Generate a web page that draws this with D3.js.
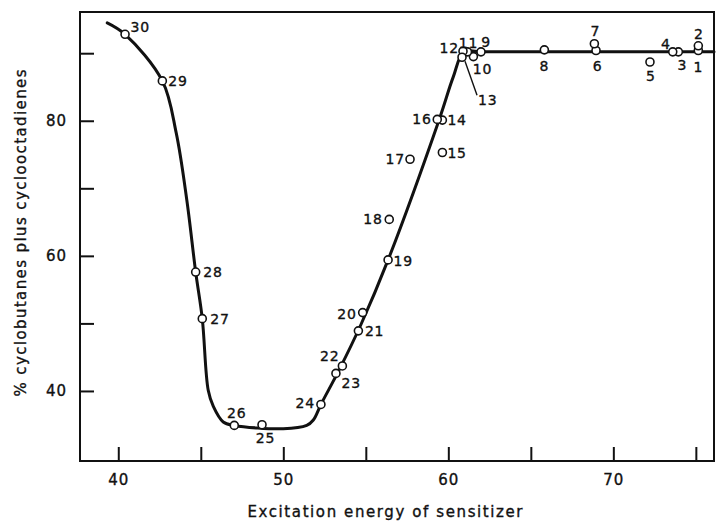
<!doctype html>
<html>
<head>
<style>
  body { margin: 0; background: #fff; }
  text { font-family: "DejaVu Sans", sans-serif; fill: #111; stroke: #111; stroke-width: 0.35px; }
  .axis line { stroke: #111; stroke-width: 2; }
  .axis path { display: none; }
  .axis text { font-size: 15px; letter-spacing: 1px; }
  .lbl { font-size: 14px; letter-spacing: 0.8px; }
</style>
<script src="https://d3js.org/d3.v7.min.js"></script>
</head>
<body>
<svg width="716" height="523"></svg>
<script>
// measured points, numbered as in the figure
var pointId = [1, 2, 3, 4, 5, 6, 7, 8, 9, 10, 11, 12, 13, 14, 15,
               16, 17, 18, 19, 20, 21, 22, 23, 24, 25, 26, 27, 28, 29, 30];
var energy  = [75.15, 75.15, 73.94, 73.6, 72.22, 68.95, 68.85, 65.82, 61.98, 61.52,
               61.16, 60.89, 60.83, 59.64, 59.64, 59.33, 57.68, 56.42, 56.35, 54.81,
               54.55, 53.58, 53.19, 52.28, 48.71, 47.03, 45.09, 44.69, 42.67, 40.41];
var percent = [90.4, 91.1, 90.2, 90.2, 88.7, 90.4, 91.4, 90.5, 90.2, 89.5,
               90.2, 90.3, 89.4, 80.1, 75.3, 80.2, 74.3, 65.4, 59.4, 51.6,
               48.9, 43.7, 42.6, 38.0, 35.0, 34.9, 50.7, 57.6, 85.9, 92.8];

// hand-drawn smooth curve through the data
var curveEnergy  = [39.33, 40.41, 42.67, 43.51, 44.15, 44.69, 45.09, 45.45, 45.76,
                    46.36, 47.03, 50.0, 51.42, 51.82, 52.28, 53.4, 54.7, 56.35, 59.45,
                    60.3, 60.95, 62.0, 76.1];
var curvePercent = [94.5, 92.8, 85.9, 78.2, 68.3, 57.6, 50.7, 40.1, 37.7,
                    35.4, 34.9, 34.4, 34.9, 35.7, 38.0, 43.2, 49.8, 59.4, 80.2,
                    86.5, 90.2, 90.2, 90.2];

var xTicks = [40, 45, 50, 55, 60, 65, 70, 75];
var xLabels = [40, 50, 60, 70];
var yTicks = [40, 50, 60, 70, 80, 90];
var yLabels = [40, 60, 80];

var xTitle = "Excitation energy of sensitizer";
var yTitle = "% cyclobutanes plus cyclooctadienes";

var svg = d3.select("svg"),
    margin = {top: 12, right: 2, bottom: 62, left: 80},
    width = svg.attr("width") - margin.left - margin.right,
    height = svg.attr("height") - margin.top - margin.bottom;

var x = d3.scaleLinear().domain([37.68, 76.1]).range([0, width]);
var y = d3.scaleLinear().domain([29.63, 96.1]).range([height, 0]);

var g = svg.append("g")
    .attr("transform", "translate(" + margin.left + "," + margin.top + ")");

// frame
g.append("rect")
    .attr("width", width).attr("height", height)
    .attr("fill", "none").attr("stroke", "#111").attr("stroke-width", 2);

g.append("g")
    .attr("class", "axis")
    .attr("transform", "translate(0," + height + ")")
    .call(d3.axisBottom(x).tickValues(xTicks).tickSize(-14).tickSizeOuter(0).tickPadding(13)
        .tickFormat(function(d) { return xLabels.indexOf(d) >= 0 ? d : ""; }));

g.append("g")
    .attr("class", "axis")
    .call(d3.axisLeft(y).tickValues(yTicks).tickSize(-14).tickSizeOuter(0).tickPadding(13)
        .tickFormat(function(d) { return yLabels.indexOf(d) >= 0 ? d : ""; }));

svg.append("text")
    .attr("x", 385).attr("y", 517)
    .attr("text-anchor", "middle")
    .attr("textLength", 275).attr("lengthAdjust", "spacing")
    .style("font-size", "15px")
    .text(xTitle);

svg.append("text")
    .attr("transform", "translate(26,233) rotate(-90)")
    .attr("text-anchor", "middle")
    .attr("textLength", 327).attr("lengthAdjust", "spacing")
    .style("font-size", "15px")
    .text(yTitle);

var line = d3.line()
    .x(function(d, i) { return x(curveEnergy[i]); })
    .y(function(d, i) { return y(curvePercent[i]); })
    .curve(d3.curveCatmullRom.alpha(0.5));

g.append("path")
    .datum(curveEnergy)
    .attr("d", line)
    .attr("fill", "none")
    .attr("stroke", "#111")
    .attr("stroke-width", 3)
    .attr("stroke-linecap", "round")
    .attr("stroke-linejoin", "round");

var pts = pointId.map(function(id, i) { return {id: id, e: energy[i], p: percent[i]}; });

g.selectAll(".pt")
    .data(pts)
    .enter().append("circle")
    .attr("class", "pt")
    .attr("cx", function(d) { return x(d.e); })
    .attr("cy", function(d) { return y(d.p); })
    .attr("r", 4)
    .attr("fill", "#fff")
    .attr("stroke", "#111")
    .attr("stroke-width", 1.6);

// label placement relative to each circle: [dx, dy, anchor]
var labelAt = {
    1: [0, 16, "middle"], 2: [0.5, -12, "middle"], 3: [4, 13, "middle"], 4: [-7, -8, "middle"],
    5: [1, 14, "middle"], 6: [1.5, 15, "middle"], 7: [1, -13, "middle"], 8: [0, 16, "middle"],
    9: [5, -10, "middle"], 10: [9, 12, "middle"], 11: [1, -9, "middle"], 12: [-4, -3, "end"],
    13: [16, 43, "start"], 14: [5, 0, "start"], 15: [5, 0, "start"], 16: [-5.5, 0, "end"],
    17: [-5, 0, "end"], 18: [-6.5, 0, "end"], 19: [5.5, 1.5, "start"], 20: [-6, 1, "end"],
    21: [6.5, 0, "start"], 22: [-3, -10, "end"], 23: [5.5, 10, "start"], 24: [-6, -1.5, "end"],
    25: [3.5, 13, "middle"], 26: [2.5, -12.5, "middle"], 27: [8, 0, "start"], 28: [7.5, 0, "start"],
    29: [6, 0, "start"], 30: [5.5, -7.5, "start"]
};

g.selectAll(".lbl")
    .data(pts)
    .enter().append("text")
    .attr("class", "lbl")
    .attr("x", function(d) { return x(d.e) + labelAt[d.id][0]; })
    .attr("y", function(d) { return y(d.p) + labelAt[d.id][1]; })
    .attr("dy", "0.36em")
    .attr("text-anchor", function(d) { return labelAt[d.id][2]; })
    .text(function(d) { return d.id; });

// leader line for point 13
var p13 = pts[12];
g.append("line")
    .attr("x1", x(p13.e) + 3).attr("y1", y(p13.p) + 4)
    .attr("x2", x(p13.e) + 15).attr("y2", y(p13.p) + 38)
    .attr("stroke", "#111").attr("stroke-width", 1.4);
</script>
</body>
</html>
